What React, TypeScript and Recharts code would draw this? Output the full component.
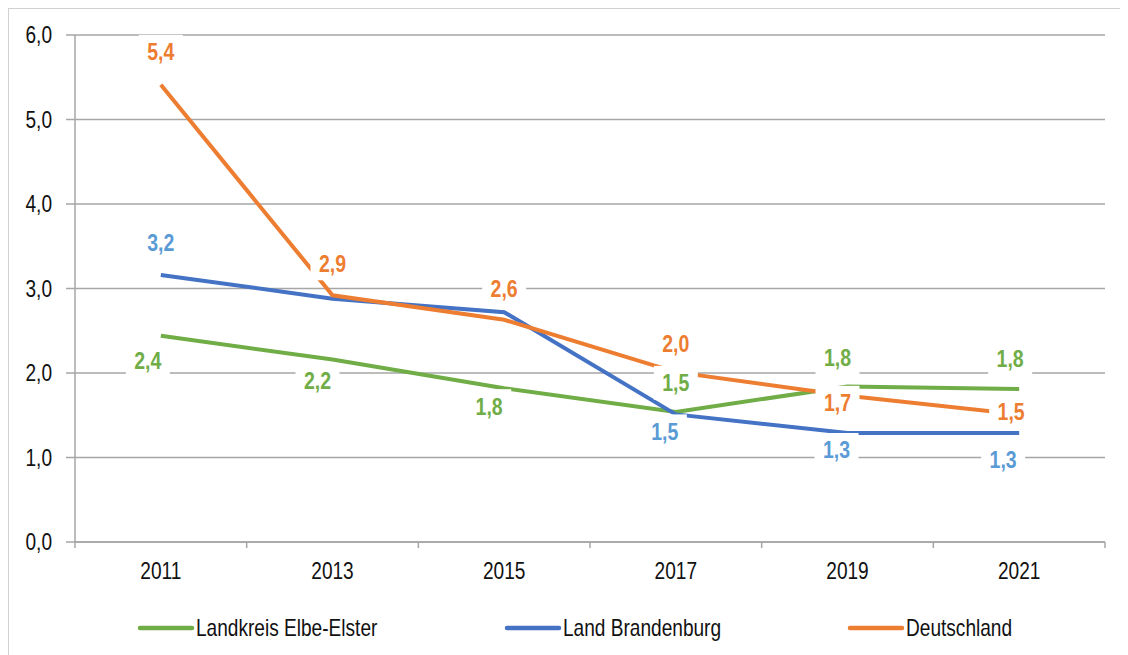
import React from 'react';
import { LineChart, Line, XAxis, YAxis, CartesianGrid, LabelList } from 'recharts';

const years = [2011, 2013, 2015, 2017, 2019, 2021];
const elbeElster = [2.44, 2.16, 1.82, 1.54, 1.84, 1.81];
const brandenburg = [3.16, 2.88, 2.72, 1.51, 1.29, 1.29];
const deutschland = [5.41, 2.92, 2.63, 2.01, 1.73, 1.51];
const seriesNames = ['Landkreis Elbe-Elster', 'Land Brandenburg', 'Deutschland'];
const yTicks = [0, 1, 2, 3, 4, 5, 6];
const xBoundaries = [2010, 2012, 2014, 2016, 2018, 2020, 2022];

const data = years.map((year, i) => ({
  year,
  ee: elbeElster[i],
  bb: brandenburg[i],
  de: deutschland[i],
}));

const FONT = "'Liberation Sans', Arial, sans-serif";
const NARROW = 0.83;
const GREEN = '#70AD47';
const BLUE = '#4472C4';
const BLUE_LABEL = '#5B9BD5';
const ORANGE = '#ED7D31';
const GRID = '#A6A6A6';
const TEXT = '#111111';

// label placement relative to each point (styling only)
const labelOffsets: Record<string, (number[] | null)[]> = {
  de: [[0, -33], [0, -32], [0, -31], [0, -29], [-10, 7], [-8, -3]],
  ee: [[-13, 25], [-15, 21], [-15, 18], [0, -29], [-10, -29], [-9, -31]],
  bb: [[0, -32], null, null, [-11, 17], [-11, 17], [-16, 27]],
};

const fmt = (v: number) => v.toFixed(1).replace('.', ',');

const NarrowText = ({ x, y, children, anchor = 'middle', size = 23, weight = 'normal', fill = TEXT }: any) => (
  <text
    transform={`translate(${x} ${y}) scale(${NARROW} 1)`}
    x={0}
    y={0}
    textAnchor={anchor}
    fontFamily={FONT}
    fontSize={size}
    fontWeight={weight}
    fill={fill}
  >
    {children}
  </text>
);

const makeLabel = (key: string, color: string) => (props: any) => {
  const { x, y, value, index } = props;
  const off = labelOffsets[key][index];
  if (!off || value == null) return null;
  const cx = x + off[0];
  const cy = y + off[1];
  return (
    <g>
      <rect x={cx - 22} y={cy - 17} width={44} height={34} fill="#ffffff" />
      <NarrowText x={cx} y={cy + 8.5} size={23.5} weight="bold" fill={color}>
        {fmt(value)}
      </NarrowText>
    </g>
  );
};

const XTick = (props: any) => {
  const { x, y, payload } = props;
  const v = payload.value;
  if (xBoundaries.includes(v)) {
    return <line x1={x} x2={x} y1={y - 6} y2={y} stroke={GRID} strokeWidth={1.5} />;
  }
  return <NarrowText x={x} y={y + 31}>{v}</NarrowText>;
};

const YTick = (props: any) => {
  const { x, y, payload } = props;
  return <NarrowText x={x} y={y + 8} anchor="end">{fmt(payload.value)}</NarrowText>;
};

const allXTicks = [...xBoundaries, ...years].sort((a, b) => a - b);

const legendItems = [
  { name: seriesNames[0], color: GREEN, left: 138 },
  { name: seriesNames[1], color: BLUE, left: 505 },
  { name: seriesNames[2], color: ORANGE, left: 848 },
];

export default function App() {
  return (
    <div
      style={{
        position: 'relative',
        width: 1120,
        height: 647,
        borderLeft: '1px solid #d0d0d0',
        borderTop: '1px solid #d0d0d0',
        overflow: 'hidden',
        boxSizing: 'border-box',
        background: '#fff',
      }}
    >
      <LineChart
        width={1119}
        height={646}
        data={data}
        margin={{ top: 26, right: 23, left: 0, bottom: 83 }}
      >
        <CartesianGrid vertical={false} stroke={GRID} strokeWidth={1.5} />
        <XAxis
          dataKey="year"
          type="number"
          domain={[2010, 2022]}
          ticks={allXTicks}
          interval={0}
          tick={<XTick />}
          tickLine={false}
          tickSize={6}
          tickMargin={0}
          axisLine={{ stroke: GRID, strokeWidth: 1.5 }}
          height={30}
        />
        <YAxis
          domain={[0, 6]}
          ticks={yTicks}
          interval={0}
          width={66}
          tickSize={9}
          tickMargin={14}
          tick={<YTick />}
          tickLine={{ stroke: GRID, strokeWidth: 1.5 }}
          axisLine={{ stroke: GRID, strokeWidth: 1.5 }}
        />
        <Line dataKey="ee" stroke={GREEN} strokeWidth={4} dot={false} activeDot={false} isAnimationActive={false} />
        <Line dataKey="bb" stroke={BLUE} strokeWidth={4} dot={false} activeDot={false} isAnimationActive={false} />
        <Line dataKey="de" stroke={ORANGE} strokeWidth={4} dot={false} activeDot={false} isAnimationActive={false} />
        <Line dataKey="ee" stroke="none" dot={false} activeDot={false} isAnimationActive={false} legendType="none">
          <LabelList dataKey="ee" content={makeLabel('ee', GREEN)} />
        </Line>
        <Line dataKey="bb" stroke="none" dot={false} activeDot={false} isAnimationActive={false} legendType="none">
          <LabelList dataKey="bb" content={makeLabel('bb', BLUE_LABEL)} />
        </Line>
        <Line dataKey="de" stroke="none" dot={false} activeDot={false} isAnimationActive={false} legendType="none">
          <LabelList dataKey="de" content={makeLabel('de', ORANGE)} />
        </Line>
      </LineChart>
      <svg
        width={1119}
        height={40}
        style={{ position: 'absolute', left: 0, top: 599, display: 'block' }}
      >
        {legendItems.map((it) => (
          <g key={it.name}>
            <line x1={it.left - 7} x2={it.left + 45} y1={20} y2={20} stroke={it.color} strokeWidth={4.5} strokeLinecap="round" />
            <NarrowText x={it.left + 49} y={28} anchor="start">{it.name}</NarrowText>
          </g>
        ))}
      </svg>
    </div>
  );
}
